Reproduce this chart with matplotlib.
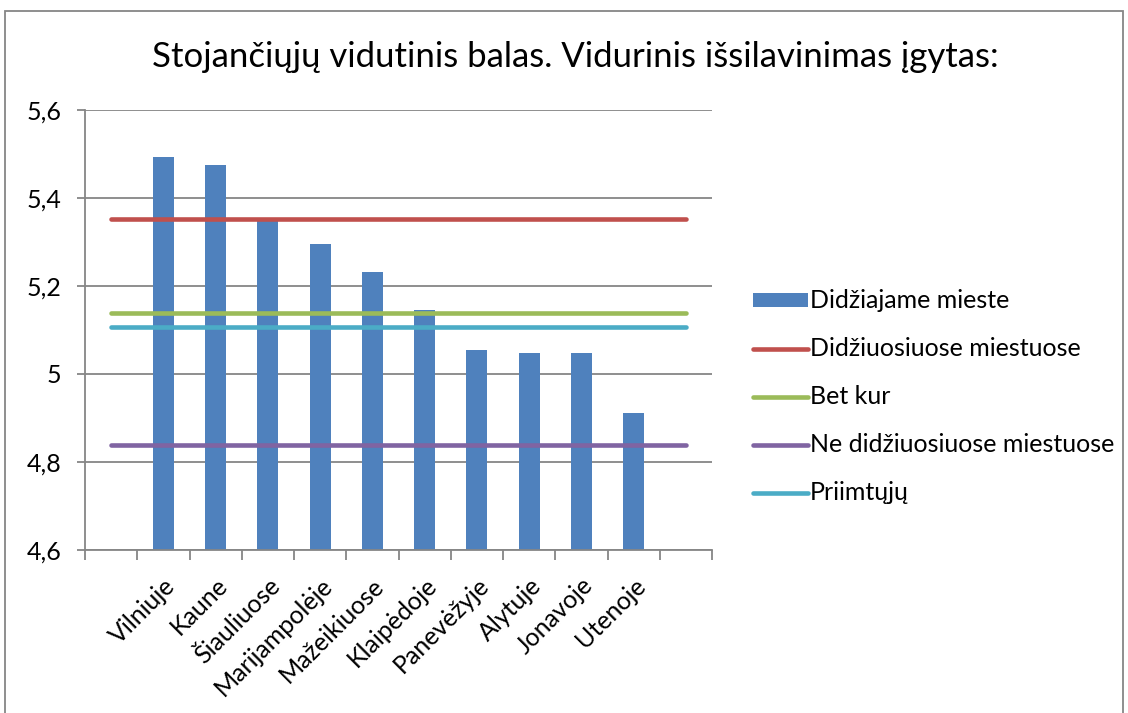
import matplotlib
matplotlib.use('Agg')
import matplotlib.pyplot as plt
import numpy as np
from matplotlib.patches import Rectangle

plt.rcParams['font.family'] = ['Lato', 'DejaVu Sans']

# data (Excel sheet: blank first and last category)
cities = ['Vilniuje', 'Kaune', 'Šiauliuose', 'Marijampolėje', 'Mažeikiuose',
          'Klaipėdoje', 'Panevėžyje', 'Alytuje', 'Jonavoje', 'Utenoje']
city_avg = [5.494, 5.474, 5.348, 5.295, 5.231, 5.145, 5.055, 5.048, 5.048, 4.911]
categories = [''] + cities + ['']

line_names = ['Didžiuosiuose miestuose', 'Bet kur', 'Ne didžiuosiuose miestuose', 'Priimtųjų']
line_values = [5.352, 5.138, 4.838, 5.106]
line_colors = ['#C0504D', '#9BBB59', '#8064A2', '#4BACC6']

yticks = [4.6, 4.8, 5.0, 5.2, 5.4, 5.6]
ytick_labels = ['4,6', '4,8', '5', '5,2', '5,4', '5,6']

grey = '#868686'

fig = plt.figure(figsize=(11.28, 7.13), dpi=100)
ax = fig.add_axes([85/1128, 1 - 550/713, (712 - 85)/1128, 440/713])

x = np.arange(len(categories))
bar_vals = [np.nan] + city_avg + [np.nan]
ax.bar(x, bar_vals, width=0.4, color='#4F81BD', label='Didžiajame mieste', zorder=2)

for name, v, c in zip(line_names, line_values, line_colors):
    ax.plot(x, [v] * len(x), color=c, lw=3.3, solid_capstyle='round', label=name, zorder=3)

ax.set_xlim(-0.5, len(categories) - 0.5)
ax.set_ylim(4.6, 5.6)
ax.set_yticks(yticks)
ax.set_yticklabels(ytick_labels, fontsize=18)
ax.yaxis.grid(True, color=grey, lw=1.3, zorder=0)
ax.set_axisbelow(True)

ax.set_xticks(x)
ax.set_xticklabels(categories, rotation=45, ha='right', rotation_mode='anchor', fontsize=18)
ax.set_xticks(np.arange(len(categories) + 1) - 0.5, minor=True)
ax.tick_params(axis='x', which='major', length=0, pad=17)
ax.tick_params(axis='x', which='minor', length=7, width=1.3, color=grey)
ax.tick_params(axis='y', length=6, width=1.3, color=grey, pad=11)

for s in ['top', 'right']:
    ax.spines[s].set_visible(False)
for s in ['left', 'bottom']:
    ax.spines[s].set_color(grey)
    ax.spines[s].set_linewidth(1.3)

fig.text(575/1128, 1 - 57/713, 'Stojančiųjų vidutinis balas. Vidurinis išsilavinimas įgytas:',
         ha='center', va='center', fontsize=25)

handles, labels = ax.get_legend_handles_labels()
order = [len(handles) - 1] + list(range(len(handles) - 1))
ax.legend([handles[i] for i in order], [labels[i] for i in order],
          loc='center left', bbox_to_anchor=(730/1128, 1 - 397/713), bbox_transform=fig.transFigure,
          frameon=False, fontsize=18, handlelength=2.2, handleheight=0.5,
          handletextpad=0.1, labelspacing=1.0)

fig.add_artist(Rectangle((5/1128, -0.05), 1118/1128, 1.05 - 11/713, transform=fig.transFigure,
                         fill=False, edgecolor=grey, lw=1.3))

fig.savefig('out.png', dpi=100)
